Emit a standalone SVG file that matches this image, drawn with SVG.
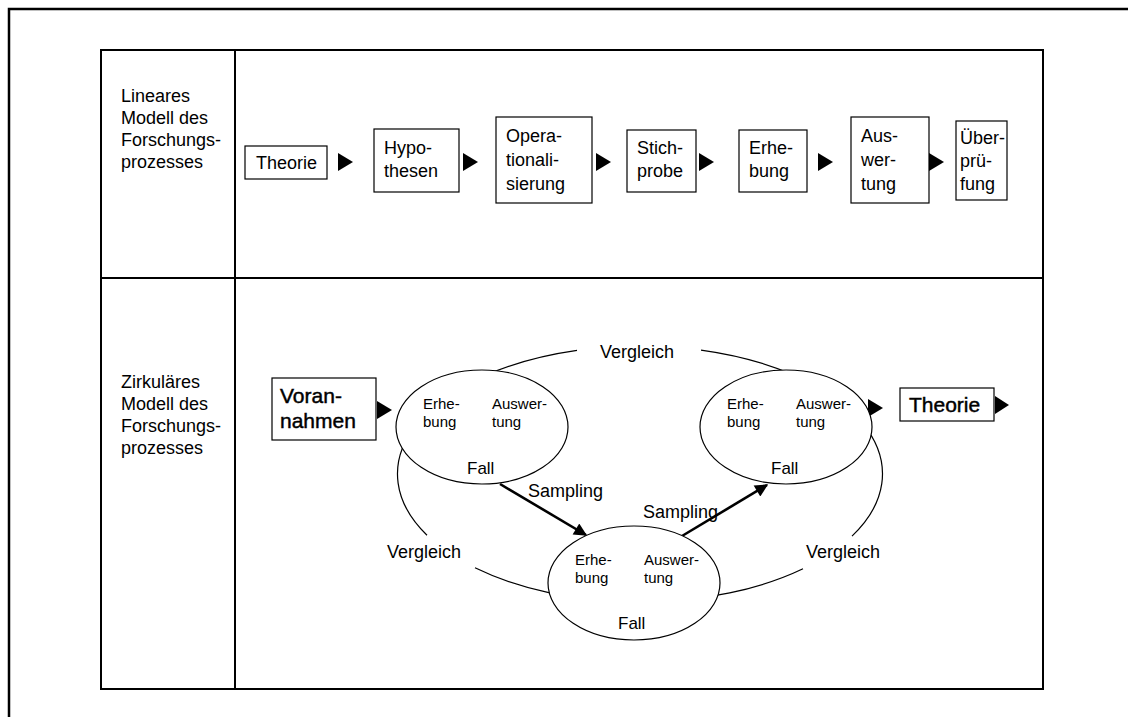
<svg xmlns="http://www.w3.org/2000/svg" width="1128" height="717" viewBox="0 0 1128 717">
<defs>
<style>
text{font-family:"Liberation Sans",Arial,sans-serif;fill:#000}
.lbl{font-size:18px}
.bx{font-size:18px}
.big{font-size:21px;stroke:#000;stroke-width:0.45}
.sm{font-size:15px}
.fall{font-size:17px}
.vg{font-size:18px}
.box{fill:#fff;stroke:#000;stroke-width:1.2}
.ell{fill:#fff;stroke:#000;stroke-width:1.2}
.tri{fill:#000}
.arc{fill:none;stroke:#000;stroke-width:1.2}
.samp{fill:none;stroke:#000;stroke-width:2.6}
</style>
<marker id="ah" viewBox="0 0 10 10" refX="9" refY="5" markerWidth="5.5" markerHeight="5" orient="auto" markerUnits="strokeWidth">
<path d="M0,0 L10,5 L0,10 z" fill="#000"/>
</marker>
</defs>
<rect width="1128" height="717" fill="#fff"/>
<g id="frame" fill="none" stroke="#000">
<path d="M9,717 V9 H1128" stroke-width="2.5"/>
<rect x="101" y="50" width="942" height="639" stroke-width="2"/>
<line x1="235" y1="50" x2="235" y2="689" stroke-width="2"/>
<line x1="101" y1="278" x2="1043" y2="278" stroke-width="2"/>
</g>
<g id="label-linear" class="lbl">
<text x="121" y="102">Lineares</text>
<text x="121" y="124">Modell des</text>
<text x="121" y="146">Forschungs-</text>
<text x="121" y="168">prozesses</text>
</g>
<g id="label-circular" class="lbl">
<text x="121" y="388">Zirkuläres</text>
<text x="121" y="410">Modell des</text>
<text x="121" y="432">Forschungs-</text>
<text x="121" y="454">prozesses</text>
</g>
<g id="n-theorie1"><rect class="box" x="245" y="146" width="82" height="33"/><text class="bx" x="256" y="169">Theorie</text></g>
<g id="n-hypothesen"><rect class="box" x="374" y="129" width="85" height="63"/><text class="bx" x="384" y="154">Hypo-</text><text class="bx" x="384" y="177">thesen</text></g>
<g id="n-operationalisierung"><rect class="box" x="496" y="117" width="96" height="86"/><text class="bx" x="506" y="142">Opera-</text><text class="bx" x="506" y="166">tionali-</text><text class="bx" x="506" y="190">sierung</text></g>
<g id="n-stichprobe"><rect class="box" x="627" y="130" width="69" height="62"/><text class="bx" x="637" y="154">Stich-</text><text class="bx" x="637" y="177">probe</text></g>
<g id="n-erhebung"><rect class="box" x="739" y="130" width="68" height="62"/><text class="bx" x="749" y="154">Erhe-</text><text class="bx" x="749" y="177">bung</text></g>
<g id="n-auswertung"><rect class="box" x="851" y="117" width="78" height="86"/><text class="bx" x="861" y="142">Aus-</text><text class="bx" x="861" y="166">wer-</text><text class="bx" x="861" y="190">tung</text></g>
<g id="n-ueberpruefung"><rect class="box" x="956" y="121" width="51" height="79"/><text class="bx" x="960" y="144">Über-</text><text class="bx" x="960" y="167">prü-</text><text class="bx" x="960" y="190">fung</text></g>
<g id="connectors">
<polygon class="tri" points="338,153 338,171 353,162"/>
<polygon class="tri" points="463,153 463,171 478,162"/>
<polygon class="tri" points="596,153 596,171 611,162"/>
<polygon class="tri" points="699,153 699,171 714,162"/>
<polygon class="tri" points="818,153 818,171 833,162"/>
<polygon class="tri" points="929,153 929,171 944,162"/>
<polygon class="tri" points="377,401 377,419 392,410"/>
<polygon class="tri" points="868,399 868,417 883,408"/>
<polygon class="tri" points="995,396 995,414 1009,405"/>
<path class="arc" d="M701,350.1 A242.5,128 0 0 1 852,536.1"/>
<path class="arc" d="M803,568.8 A242.5,128 0 0 1 475,567.8"/>
<path class="arc" d="M427,535.2 A242.5,128 0 0 1 577,350.4"/>
<line class="samp" x1="500" y1="484" x2="586" y2="535" marker-end="url(#ah)"/>
<line class="samp" x1="682" y1="536" x2="767" y2="485" marker-end="url(#ah)"/>
</g>
<g id="n-vorannahmen"><rect class="box" x="272" y="378" width="104" height="62"/><text class="big" x="280" y="403">Voran-</text><text class="big" x="280" y="428">nahmen</text></g>
<g id="n-theorie2"><rect class="box" x="900" y="388" width="94" height="33"/><text class="big" x="909" y="412">Theorie</text></g>
<g id="n-fall1"><ellipse class="ell" cx="482" cy="427" rx="86" ry="57"/><text class="sm" x="423" y="409">Erhe-</text><text class="sm" x="423" y="427">bung</text><text class="sm" x="492" y="409">Auswer-</text><text class="sm" x="492" y="427">tung</text><text class="fall" x="467" y="474">Fall</text></g>
<g id="n-fall2"><ellipse class="ell" cx="634" cy="583" rx="86" ry="57"/><text class="sm" x="575" y="565">Erhe-</text><text class="sm" x="575" y="583">bung</text><text class="sm" x="644" y="565">Auswer-</text><text class="sm" x="644" y="583">tung</text><text class="fall" x="618" y="629">Fall</text></g>
<g id="n-fall3"><ellipse class="ell" cx="786" cy="427" rx="86" ry="57"/><text class="sm" x="727" y="409">Erhe-</text><text class="sm" x="727" y="427">bung</text><text class="sm" x="796" y="409">Auswer-</text><text class="sm" x="796" y="427">tung</text><text class="fall" x="771" y="474">Fall</text></g>
<g id="labels" class="vg">
<text x="600" y="358">Vergleich</text>
<text x="387" y="558">Vergleich</text>
<text x="806" y="558">Vergleich</text>
<text x="528" y="497">Sampling</text>
<text x="643" y="518">Sampling</text>
</g>
</svg>
